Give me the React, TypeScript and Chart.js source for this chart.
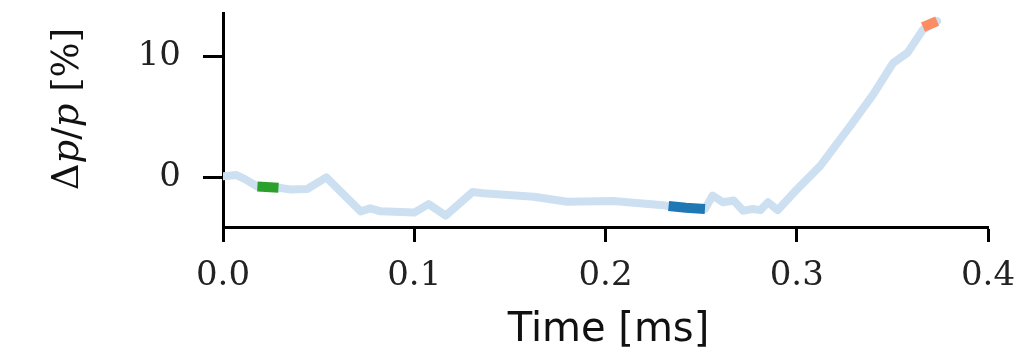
import React, { useEffect, useRef } from "react";
import { Chart, registerables } from "chart.js";

Chart.register(...registerables);

// Full trace (time in ms, Δp/p in %)
const timeMs = [0.0, 0.007, 0.011, 0.018, 0.029, 0.0355, 0.044, 0.054, 0.072, 0.077, 0.0825, 0.1, 0.1075, 0.1165, 0.1305, 0.136, 0.1625, 0.18, 0.204, 0.23, 0.233, 0.252, 0.256, 0.2615, 0.267, 0.272, 0.277, 0.281, 0.285, 0.29, 0.3, 0.3123, 0.328, 0.34, 0.3504, 0.358, 0.366, 0.3734];
const deltaP = [0.1, 0.2, -0.1, -0.75, -0.85, -1.0, -0.95, 0.0, -2.8, -2.55, -2.8, -2.9, -2.2, -3.15, -1.2, -1.3, -1.6, -2.0, -1.95, -2.3, -2.35, -2.6, -1.5, -2.05, -1.9, -2.75, -2.6, -2.7, -2.05, -2.7, -1.0, 0.95, 4.25, 6.85, 9.45, 10.3, 12.2, 12.9];

// Highlighted windows
const greenTime = [0.018, 0.029];
const greenVal = [-0.75, -0.85];
const blueTime = [0.233, 0.242, 0.252];
const blueVal = [-2.35, -2.5, -2.6];
const orangeTime = [0.366, 0.3734];
const orangeVal = [12.4, 12.9];

const xTicks = [0.0, 0.1, 0.2, 0.3, 0.4];
const yTicks = [0, 10];

const pts = (xs: number[], ys: number[]) => xs.map((x, i) => ({ x, y: ys[i] }));

const zeroPad = (s: any) => {
  s.paddingTop = 0;
  s.paddingBottom = 0;
  s.paddingLeft = 0;
  s.paddingRight = 0;
};

export default function App() {
  const ref = useRef<HTMLCanvasElement>(null);
  useEffect(() => {
    if (!ref.current) return;
    const titlePlugin = {
      id: "titles",
      afterDraw(chart: any) {
        const ctx = chart.ctx;
        ctx.save();
        ctx.fillStyle = "#111";
        // x title
        ctx.font = "40px 'DejaVu Sans'";
        ctx.textAlign = "center";
        ctx.textBaseline = "alphabetic";
        const ca = chart.chartArea;
        ctx.fillText("Time [ms]", (ca.left + ca.right) / 2 + 3, 333);
        // y title with italic p
        const parts: [string, string][] = [
          ["Δ", "37px 'DejaVu Serif'"],
          ["p", "italic 37px 'DejaVu Serif'"],
          ["/", "37px 'DejaVu Serif'"],
          ["p", "italic 37px 'DejaVu Serif'"],
          [" [%]", "37px 'DejaVu Serif'"],
        ];
        let total = 0;
        const widths = parts.map(([t, f]) => {
          ctx.font = f;
          const w = ctx.measureText(t).width;
          total += w;
          return w;
        });
        ctx.translate(70, 101);
        ctx.rotate(-Math.PI / 2);
        ctx.textAlign = "left";
        let x = -total / 2;
        parts.forEach(([t, f], i) => {
          ctx.font = f;
          ctx.fillText(t, x, 0);
          x += widths[i];
        });
        ctx.restore();
      },
    };
    const axisCommon = {
      grid: { display: true, drawOnChartArea: false, drawTicks: true, tickWidth: 3, tickColor: "#000" },
      border: { display: true, color: "#000", width: 3 },
    };
    const chart = new Chart(ref.current, {
      type: "line",
      data: {
        datasets: [
          { data: pts(greenTime, greenVal), borderColor: "#2ca02c", borderWidth: 10, pointRadius: 0, tension: 0, borderCapStyle: "butt" },
          { data: pts(blueTime, blueVal), borderColor: "#1f77b4", borderWidth: 10, pointRadius: 0, tension: 0, borderCapStyle: "butt" },
          { data: pts(orangeTime, orangeVal), borderColor: "#fc8d62", borderWidth: 10, pointRadius: 0, tension: 0, borderCapStyle: "butt" },
          { data: pts(timeMs, deltaP), borderColor: "#cde0f1", borderWidth: 8, pointRadius: 0, tension: 0, borderCapStyle: "round", borderJoinStyle: "round" },
        ],
      },
      options: {
        responsive: false,
        animation: false,
        events: [],
        layout: { padding: { top: 5, right: 39, left: 0, bottom: 0 } },
        plugins: { legend: { display: false }, tooltip: { enabled: false } },
        scales: {
          x: {
            type: "linear",
            min: 0,
            max: 0.4,
            ...axisCommon,
            grid: { ...axisCommon.grid, tickLength: 15 },
            afterBuildTicks: (s: any) => { s.ticks = xTicks.map((v) => ({ value: v })); },
            afterFit: (s: any) => { s.height = 127; zeroPad(s); },
            ticks: {
              color: "#222",
              padding: 14,
              maxRotation: 0,
              font: { family: "'DejaVu Serif'", size: 34 },
              callback: (v: any) => Number(v).toFixed(1),
            },
          },
          y: {
            type: "linear",
            min: -4.09,
            max: 13.57,
            ...axisCommon,
            grid: { ...axisCommon.grid, tickLength: 20 },
            afterBuildTicks: (s: any) => { s.ticks = yTicks.map((v) => ({ value: v })); },
            afterFit: (s: any) => { s.width = 215; zeroPad(s); },
            ticks: {
              color: "#222",
              padding: 22,
              font: { family: "'DejaVu Serif'", size: 34 },
              callback: (v: any) => String(v),
            },
          },
        },
      },
      plugins: [titlePlugin],
    } as any);
    return () => chart.destroy();
  }, []);
  return <canvas ref={ref} width={1019} height={346} style={{ display: "block" }} />;
}
